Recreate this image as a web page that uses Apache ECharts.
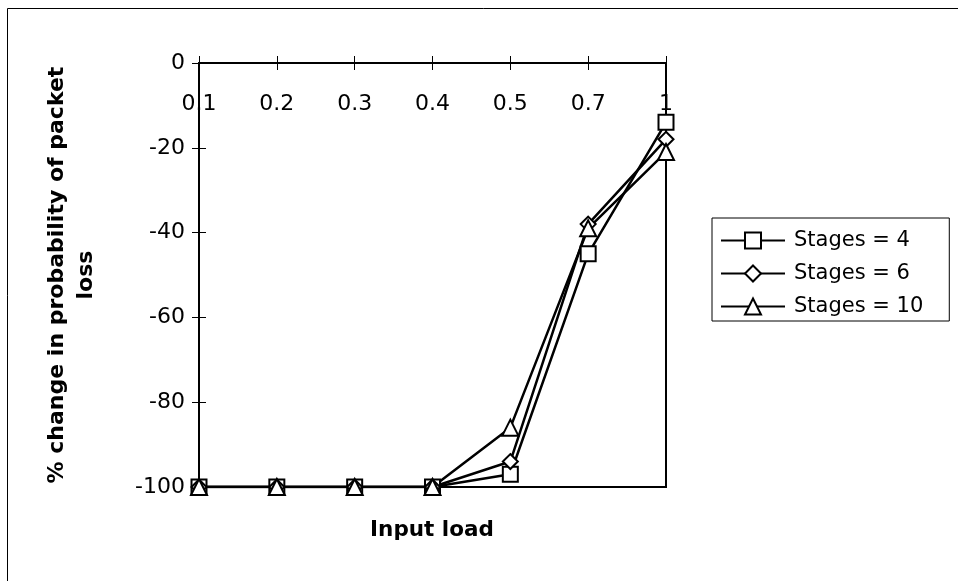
<!DOCTYPE html>
<html>
<head>
<meta charset="utf-8">
<title>Packet loss change vs input load</title>
<script src="https://cdn.jsdelivr.net/npm/echarts@6/dist/echarts.min.js"></script>
<style>
  html, body { margin: 0; padding: 0; background: #fff; }
  #chart { width: 958px; height: 581px; }
</style>
</head>
<body>
<div id="chart"></div>
<script>
// Input load categories (top axis)
const loads = ['0.1', '0.2', '0.3', '0.4', '0.5', '0.7', '1'];

// % change in probability of packet loss per number of stages
const stages4 = [-100, -100, -100, -100, -97, -45, -14];
const stages6 = [-100, -100, -100, -100, -94, -38, -18];
const stages10 = [-100, -100, -100, -100, -86, -39, -21];

const seriesNames = ['Stages = 4', 'Stages = 6', 'Stages = 10'];
const seriesSymbols = ['rect', 'diamond', 'triangle'];

const FONT = 'DejaVu Sans';
const INK = '#000';

const chart = echarts.init(document.getElementById('chart'), null, { renderer: 'canvas' });

function makeSeries(name, values, symbol, size) {
  return {
    name: name,
    type: 'line',
    data: values,
    symbol: symbol,
    symbolSize: size,
    showAllSymbol: true,
    lineStyle: { color: INK, width: 2.5 },
    itemStyle: { color: '#fff', borderColor: INK, borderWidth: 2 },
    emphasis: { disabled: true },
    animation: false
  };
}

const option = {
  animation: false,
  backgroundColor: '#fff',
  textStyle: { fontFamily: FONT, color: INK },
  grid: {
    left: 199, right: 292, top: 63, bottom: 94,
    show: true, borderColor: INK, borderWidth: 2, backgroundColor: 'transparent'
  },
  legend: {
    orient: 'vertical',
    left: 712, top: 218,
    padding: [12, 26, 4, 8],
    itemGap: 12,
    itemWidth: 64,
    itemHeight: 20,
    borderColor: INK,
    borderWidth: 1,
    backgroundColor: '#fff',
    textStyle: { fontFamily: FONT, fontSize: 21, color: INK, padding: [0, 0, 0, 4] },
    data: seriesNames,
    selectedMode: false
  },
  xAxis: [
    {
      type: 'category',
      data: loads,
      position: 'top',
      boundaryGap: false,
      axisLine: { show: true, lineStyle: { color: INK, width: 2 } },
      axisTick: { show: true, inside: false, length: 7, lineStyle: { color: INK, width: 1 } },
      axisLabel: { inside: true, margin: 30, fontSize: 22, color: INK, fontFamily: FONT, interval: 0 },
      splitLine: { show: false }
    },
    {
      type: 'category',
      data: loads,
      position: 'top',
      boundaryGap: false,
      axisLine: { show: false },
      axisTick: { show: true, inside: true, length: 7, lineStyle: { color: INK, width: 1 } },
      axisLabel: { show: false },
      splitLine: { show: false }
    }
  ],
  yAxis: [
    {
      type: 'value',
      min: -100, max: 0, interval: 20,
      position: 'left',
      axisLine: { show: true, onZero: false, lineStyle: { color: INK, width: 2 } },
      axisTick: { show: true, inside: false, length: 7, lineStyle: { color: INK, width: 1 } },
      axisLabel: { margin: 14, fontSize: 22, color: INK, fontFamily: FONT },
      splitLine: { show: false },
      name: '% change in probability of packet\nloss',
      nameLocation: 'middle',
      nameRotate: 90,
      nameGap: 98,
      nameTextStyle: { fontFamily: FONT, fontSize: 22, fontWeight: 'bold', color: INK, lineHeight: 29, align: 'center' }
    },
    {
      type: 'value',
      min: -100, max: 0, interval: 20,
      position: 'left',
      axisLine: { show: false },
      axisTick: { show: true, inside: true, length: 7, lineStyle: { color: INK, width: 1 } },
      axisLabel: { show: false },
      splitLine: { show: false }
    }
  ],
  graphic: [
    {
      type: 'rect',
      silent: true,
      z: -10,
      shape: { x: 7.5, y: 8.5, width: 1000, height: 1000 },
      style: { fill: 'transparent', stroke: INK, lineWidth: 1 }
    },
    {
      type: 'text',
      silent: true,
      x: 432, y: 530,
      style: {
        text: 'Input load',
        fontFamily: FONT, fontSize: 21.5, fontWeight: 'bold', fill: INK,
        align: 'center', verticalAlign: 'middle'
      }
    }
  ],
  series: [
    makeSeries(seriesNames[0], stages4, seriesSymbols[0], 15),
    makeSeries(seriesNames[1], stages6, seriesSymbols[1], 15),
    makeSeries(seriesNames[2], stages10, seriesSymbols[2], 16)
  ]
};

chart.setOption(option);
</script>
</body>
</html>
